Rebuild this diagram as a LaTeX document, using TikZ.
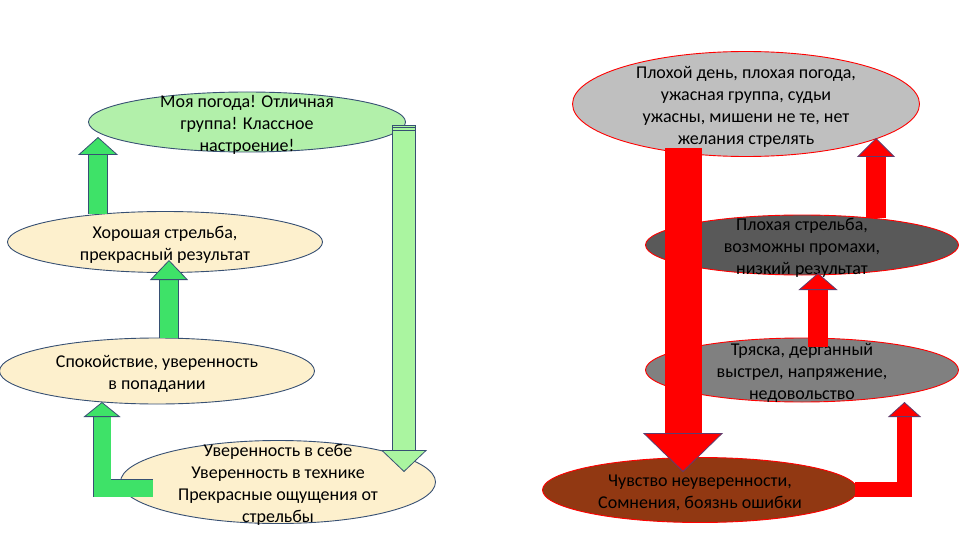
\documentclass[tikz,border=0pt]{standalone}
\usepackage{fontspec}
\setmainfont{Carlito}
\usetikzlibrary{shapes.geometric,arrows.meta,calc}
\definecolor{moodgreen}{RGB}{178,240,170}
\definecolor{peach}{RGB}{253,240,205}
\definecolor{gline}{RGB}{55,80,115}
\definecolor{gup}{RGB}{62,226,104}
\definecolor{gdown}{RGB}{170,245,160}
\definecolor{rline}{RGB}{95,60,110}
\definecolor{badgray}{RGB}{191,191,191}
\definecolor{poorgray}{RGB}{89,89,89}
\definecolor{shakegray}{RGB}{128,128,128}
\definecolor{doubtbrown}{RGB}{145,56,18}
\newcommand\bubtext[1]{\makebox[0pt]{\smash{\raisebox{-7pt}{\begin{tabular}{@{}c@{}}#1\end{tabular}}}}}
\tikzset{
  bubble/.style n args={2}{ellipse, draw=#1, fill=#2, line width=0.9pt,
    inner sep=0pt, outer sep=0pt, font=\fontsize{18}{22}\selectfont},
  garrow/.style n args={4}{line width=#1, draw=#4,
    preaction={draw=gline, line width=#1+1.6pt, -, shorten >=#3},
    -{Triangle[width=#2,length=#3,line width=0.8pt,fill=#4,color=gline]}},
  rarrow/.style n args={3}{line width=#1, draw=red,
    -{Triangle[width=#2,length=#3,line width=0.8pt,fill=red,color=rline]}},
}
\begin{document}
\begin{tikzpicture}[x=1pt,y=-1pt]
  \useasboundingbox (0,0) rectangle (960,540);
  % Good circle
  \node[bubble={gline}{moodgreen}, minimum width=317pt, minimum height=60pt] (mood) at (247,122)
    {\bubtext{Моя погода! Отличная\\группа! Классное\\настроение!}};
  \node[bubble={gline}{peach}, minimum width=315pt, minimum height=61pt] (good) at (165,242)
    {\bubtext{Хорошая стрельба,\\прекрасный результат}};
  \node[bubble={gline}{peach}, minimum width=315pt, minimum height=66pt] (calm) at (157,371)
    {\bubtext{Спокойствие, уверенность\\в попадании}};
  \node[bubble={gline}{peach}, minimum width=315pt, minimum height=83pt] (conf) at (278,482)
    {\bubtext{Уверенность в себе\\Уверенность в технике\\Прекрасные ощущения от\\стрельбы}};
  \draw[garrow={18pt}{40pt}{18pt}{gup}] ($(good.north)+(-67,2.5)$) -- ($(mood.south)+(-149,-15)$);
  \draw[garrow={18pt}{38pt}{20pt}{gup}] ($(calm.north)+(12,0)$) -- ($(good.south)+(4,-12.5)$);
  \draw[garrow={17pt}{37pt}{15pt}{gup}] ($(conf.west)+(32,6)$) -| ($(calm.south)+(-55,-2)$);
  \coordinate (dtop) at ($(mood.east)+(-1.5,3)$);
  \draw[garrow={22pt}{46pt}{22pt}{gdown}] (dtop) -- ($(conf.north)+(126,31.5)$);
  \foreach \d in {0,2.5,5}
    \draw[gline, line width=0.6pt] ($(dtop)+(-11.8,\d)$) -- ++(23.6,0);
  % Bad circle
  \node[bubble={red}{badgray}, minimum width=347pt, minimum height=105pt] (bad) at (746,104)
    {\bubtext{Плохой день, плохая погода,\\ужасная группа, судьи\\ужасны, мишени не те, нет\\желания стрелять}};
  \node[bubble={red}{poorgray}, minimum width=313pt, minimum height=60pt] (poor) at (802,245)
    {\bubtext{Плохая стрельба,\\возможны промахи,\\низкий результат}};
  \node[bubble={red}{shakegray}, minimum width=313pt, minimum height=64pt] (shake) at (802,370)
    {\bubtext{Тряска, дерганный\\выстрел, напряжение,\\недовольство}};
  \node[bubble={red}{doubtbrown}, minimum width=315pt, minimum height=65pt] (doubt) at (700,490)
    {\bubtext{Чувство неуверенности,\\Сомнения, боязнь ошибки}};
  \draw[rarrow={37pt}{80pt}{39pt}] ($(bad.south)+(-63,-8.5)$) -- ($(doubt.north)+(-17,14.5)$);
  \draw[rarrow={20pt}{38pt}{19pt}] ($(poor.north)+(74,3)$) -- ($(bad.south)+(130,-18.5)$);
  \draw[rarrow={20pt}{39pt}{17pt}] ($(shake.north)+(16,9)$) -- ($(poor.south)+(16,-2)$);
  \draw[rarrow={15pt}{33pt}{15pt}] ($(doubt.east)+(-2.5,-0.5)$) -| ($(shake.south)+(102.5,0)$);
\end{tikzpicture}
\end{document}
